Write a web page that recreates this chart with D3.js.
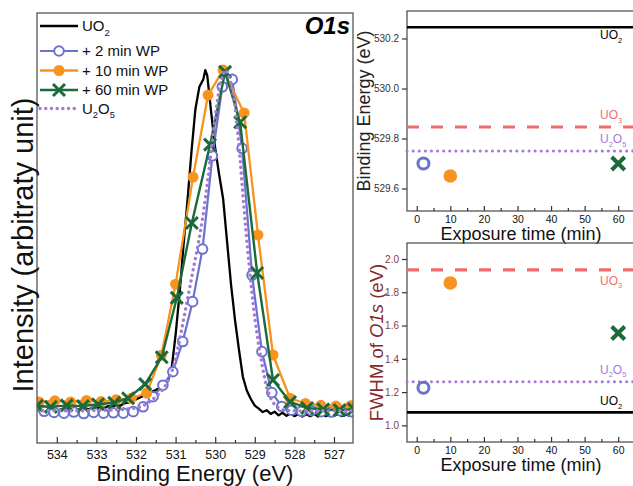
<!DOCTYPE html>
<html>
<head>
<meta charset="utf-8">
<script src="https://cdn.jsdelivr.net/npm/d3@7"></script>
<style>
  body { margin: 0; background: #fff; }
</style>
</head>
<body>
<div id="chart"></div>
<script>
// ---------------- data ----------------
var energyTicks = [534, 533, 532, 531, 530, 529, 528, 527];
var energyMinor = [533.5, 532.5, 531.5, 530.5, 529.5, 528.5, 527.5];
var timeTicks = [0, 10, 20, 30, 40, 50, 60];
var timeMinor = [5, 15, 25, 35, 45, 55];
var bindingTicks = [529.6, 529.8, 530.0, 530.2];
var fwhmTicks = [1.0, 1.2, 1.4, 1.6, 1.8, 2.0];

// O1s spectra: [binding energy (eV), normalised intensity]
var spectrumUO2 = [
  [534.5,.090],[534.4,.085],[534.3,.092],[534.2,.087],[534.1,.091],[534.0,.086],[533.9,.090],[533.8,.088],
  [533.7,.093],[533.6,.087],[533.5,.091],[533.4,.089],[533.3,.094],[533.2,.090],[533.1,.095],[533.0,.092],
  [532.9,.097],[532.8,.094],[532.7,.099],[532.6,.097],[532.5,.102],[532.4,.100],[532.3,.106],[532.2,.108],
  [532.1,.113],[532.0,.117],[531.9,.122],[531.8,.127],[531.7,.131],[531.6,.137],[531.5,.142],[531.4,.148],
  [531.3,.155],[531.2,.165],[531.1,.200],[531.0,.290],[530.9,.400],[530.8,.530],[530.7,.650],[530.6,.780],
  [530.5,.895],[530.4,.955],[530.3,.975],[530.25,1.0],[530.2,.985],[530.1,.885],[530.0,.790],[529.9,.720],
  [529.8,.655],[529.7,.540],[529.6,.425],[529.5,.330],[529.4,.250],[529.3,.177],[529.2,.140],[529.1,.118],
  [529.0,.100],[528.9,.092],[528.8,.083],[528.7,.088],[528.6,.078],[528.5,.084],[528.4,.074],[528.3,.081],
  [528.2,.073],[528.1,.079],[528.0,.072],[527.9,.078],[527.8,.071],[527.7,.077],[527.6,.072],[527.5,.078],
  [527.4,.071],[527.3,.076],[527.2,.072],[527.1,.077],[527.0,.073],[526.9,.078],[526.8,.072],[526.7,.076],
  [526.6,.073],[526.5,.077]
];
var spectrum2min = [
  [534.32,.085],[534.07,.082],[533.82,.080],[533.57,.083],[533.32,.079],[533.07,.082],[532.82,.080],
  [532.57,.081],[532.32,.080],[532.07,.084],[531.82,.097],[531.57,.124],[531.32,.155],[531.07,.191],
  [530.82,.272],[530.57,.379],[530.32,.520],[530.07,.770],[529.82,.955],[529.57,.975],[529.32,.790],
  [529.07,.450],[528.82,.245],[528.57,.135],[528.32,.098],[528.07,.088],[527.82,.085],[527.57,.087],
  [527.32,.084],[527.07,.083],[526.82,.086],[526.57,.084]
];
var spectrum10min = [
  [534.45,.110],[534.05,.113],[533.65,.110],[533.25,.114],[532.88,.111],[532.50,.116],[532.12,.120],
  [531.73,.134],[531.36,.235],[531.00,.426],[530.56,.713],[530.18,.933],[529.80,1.0],[529.27,.885],
  [528.92,.558],[528.54,.236],[528.11,.120],[527.72,.106],[527.33,.101],[526.95,.099],[526.58,.100]
];
var spectrum60min = [
  [534.50,.100],[534.15,.097],[533.75,.101],[533.34,.099],[532.96,.104],[532.55,.108],[532.20,.120],
  [531.77,.158],[531.35,.230],[530.97,.389],[530.59,.590],[530.13,.800],[529.75,.995],[529.37,.860],
  [528.94,.456],[528.54,.169],[528.11,.110],[527.68,.094],[527.27,.090],[526.86,.088],[526.50,.091]
];
var spectrumU2O5 = [
  [534.5,.088],[534.3,.087],[534.1,.088],[533.9,.087],[533.7,.086],[533.5,.087],[533.3,.086],[533.1,.087],
  [532.9,.087],[532.7,.088],[532.5,.089],[532.3,.090],[532.1,.092],[532.0,.094],[531.9,.097],[531.8,.101],
  [531.7,.107],[531.6,.115],[531.5,.124],[531.4,.134],[531.3,.146],[531.2,.165],[531.1,.190],[531.0,.225],
  [530.9,.275],[530.8,.330],[530.7,.385],[530.6,.440],[530.5,.495],[530.4,.550],[530.3,.615],[530.2,.695],
  [530.1,.785],[530.0,.875],[529.9,.950],[529.8,.990],[529.75,1.0],[529.7,.995],[529.6,.965],[529.5,.905],
  [529.4,.800],[529.3,.665],[529.2,.540],[529.1,.430],[529.0,.335],[528.9,.260],[528.8,.200],[528.7,.148],
  [528.6,.120],[528.5,.103],[528.4,.094],[528.3,.089],[528.1,.087],[527.9,.086],[527.7,.087],[527.5,.086],
  [527.3,.087],[527.1,.086],[526.9,.087],[526.7,.086],[526.5,.087]
];

// fitted peak parameters vs exposure time
var sampleTimes = [2, 10, 60];
var sampleBE = [529.70, 529.65, 529.70];
var sampleFWHM = [1.226, 1.856, 1.555];
var refBE = [530.245, 529.846, 529.75];      // UO2, UO3, U2O5
var refFWHM = [1.078, 1.935, 1.262];

var legendNames = [[["UO", 0], ["2", 1]], [["+ 2 min WP", 0]], [["+ 10 min WP", 0]], [["+ 60 min WP", 0]],
  [["U", 0], ["2", 1], ["O", 0], ["5", 1]]];
var refNames = [[["UO", 0], ["2", 1]], [["UO", 0], ["3", 1]], [["U", 0], ["2", 1], ["O", 0], ["5", 1]]];

// ---------------- styles ----------------
var FONT = "'Liberation Sans', Arial, Helvetica, sans-serif";
var C_BLUE = "#6a72cc", C_ORANGE = "#f7931e", C_GREEN = "#1b6a3a", C_PURPLE = "#a47ad6",
    C_SALMON = "#f06c6c", C_DARKRED = "#862a2a", C_FRAME = "#555";

var svg = d3.select("#chart").append("svg")
  .attr("width", 633).attr("height", 486)
  .style("font-family", FONT);

function formula(text, parts, size) {
  var sub = false;
  parts.forEach(function (p) {
    var t = text.append("tspan").text(p[0]);
    if (p[1]) {
      t.attr("font-size", size * 0.62);
      if (!sub) t.attr("dy", size * 0.3);
    } else if (sub) {
      t.attr("dy", -size * 0.3);
    }
    sub = !!p[1];
  });
}

function marker(g, type, x, y, s, color, sw) {
  if (type == "open") {
    g.append("circle").attr("cx", x).attr("cy", y).attr("r", s)
      .attr("fill", "#fff").attr("stroke", color).attr("stroke-width", sw);
  } else if (type == "dot") {
    g.append("circle").attr("cx", x).attr("cy", y).attr("r", s).attr("fill", color);
  } else if (type == "x") {
    g.append("path")
      .attr("d", "M" + (x - s) + "," + (y - s) + "L" + (x + s) + "," + (y + s) +
                 "M" + (x - s) + "," + (y + s) + "L" + (x + s) + "," + (y - s))
      .attr("stroke", color).attr("stroke-width", sw).attr("fill", "none");
  }
}

function styleAxis(g, size, color) {
  g.attr("font-size", null).attr("font-family", null);
  g.select(".domain").remove();
  g.selectAll("line").attr("stroke", "#333").attr("stroke-width", 1.2);
  g.selectAll("text").attr("font-size", size).attr("fill", color);
}

// minor ticks only, no labels
function minorTicks(g, scale, values, y) {
  var ax = g.append("g").attr("transform", "translate(0," + y + ")")
    .call(d3.axisBottom(scale).tickValues(values).tickSize(-3));
  ax.selectAll("text").remove();
  styleAxis(ax, 10, "#111");
}

// ================= left panel: spectra =================
var L = { left: 37, right: 353, top: 13, bottom: 443 };
var xE = d3.scaleLinear().domain([534.5, 526.52]).range([L.left, L.right]);
var yI = d3.scaleLinear().domain([0, 1.153]).range([L.bottom, L.top]);

svg.append("clipPath").attr("id", "clipL").append("rect")
  .attr("x", L.left).attr("y", L.top).attr("width", L.right - L.left).attr("height", L.bottom - L.top);

var series = [
  { data: spectrumUO2, color: "#000", width: 2.3, marker: null },
  { data: spectrum2min, color: C_BLUE, width: 2.2, marker: "open", size: 4.8, sw: 2 },
  { data: spectrum10min, color: C_ORANGE, width: 2.3, marker: "dot", size: 5.5 },
  { data: spectrum60min, color: C_GREEN, width: 2.4, marker: "x", size: 6, sw: 3 },
  { data: spectrumU2O5, color: C_PURPLE, width: 3.4, dash: "0.1 5.6", marker: null }
];

var line = d3.line().x(function (d) { return xE(d[0]); }).y(function (d) { return yI(d[1]); });
var gL = svg.append("g").attr("clip-path", "url(#clipL)");

series.forEach(function (s) {
  var p = gL.append("path").datum(s.data).attr("d", line)
    .attr("fill", "none").attr("stroke", s.color).attr("stroke-width", s.width)
    .attr("stroke-linejoin", "round");
  if (s.dash) p.attr("stroke-dasharray", s.dash).attr("stroke-linecap", "round");
  if (s.marker) {
    s.data.forEach(function (d) {
      marker(gL, s.marker, xE(d[0]), yI(d[1]), s.size, s.color, s.sw);
    });
  }
});

svg.append("rect").attr("x", L.left).attr("y", L.top)
  .attr("width", L.right - L.left).attr("height", L.bottom - L.top)
  .attr("fill", "none").attr("stroke", C_FRAME).attr("stroke-width", 1.3);

var axE = svg.append("g").attr("transform", "translate(0," + L.bottom + ")")
  .call(d3.axisBottom(xE).tickValues(energyTicks).tickFormat(d3.format("d")).tickSize(-6).tickPadding(7));
styleAxis(axE, 12.5, "#111");
minorTicks(svg, xE, energyMinor, L.bottom);

svg.append("text").attr("x", 195).attr("y", 481).attr("text-anchor", "middle")
  .attr("font-size", 22).attr("fill", "#111").text("Binding Energy (eV)");
svg.append("text").attr("transform", "translate(33,245) rotate(-90)").attr("text-anchor", "middle")
  .attr("font-size", 29).attr("fill", "#111").text("Intensity (arbitraty unit)");
svg.append("text").attr("x", 350).attr("y", 34).attr("text-anchor", "end")
  .attr("font-size", 24).attr("font-weight", "bold").attr("font-style", "italic").text("O1s");

// legend
var legendRows = [26, 51, 70.5, 90, 108.5];
series.forEach(function (s, i) {
  var y = legendRows[i];
  var l = svg.append("line").attr("x1", 40).attr("x2", 78).attr("y1", y).attr("y2", y)
    .attr("stroke", s.color).attr("stroke-width", s.width);
  if (s.dash) l.attr("stroke-dasharray", s.dash).attr("stroke-linecap", "round");
  if (s.marker) marker(svg, s.marker, 59, y, s.size, s.color, s.sw);
  var t = svg.append("text").attr("x", 82).attr("y", y + 5.3).attr("font-size", 15).attr("fill", "#111");
  formula(t, legendNames[i], 15);
});

// ================= right panels =================
var xT = d3.scaleLinear().domain([-2.9, 65.3]).range([407, 636]);
var pointStyles = [
  { color: C_BLUE, marker: "open", size: 5.5, sw: 3 },
  { color: C_ORANGE, marker: "dot", size: 6.8 },
  { color: C_GREEN, marker: "x", size: 6.5, sw: 4 }
];
var refStyles = [
  { color: "#000", width: 2.6, dash: null },
  { color: C_SALMON, width: 3.2, dash: "12 12" },
  { color: C_PURPLE, width: 3, dash: "0.1 6", cap: "round" }
];

function rightPanel(P, yScale, yTicks, refs, values, labelOffsets, tickColor) {
  var g = svg.append("g");
  g.append("rect").attr("x", P.left).attr("y", P.top)
    .attr("width", P.right - P.left).attr("height", P.bottom - P.top)
    .attr("fill", "none").attr("stroke", C_FRAME).attr("stroke-width", 1.3);

  refs.forEach(function (v, i) {
    var st = refStyles[i];
    var y = yScale(v);
    var l = g.append("line").attr("x1", P.left).attr("x2", P.right).attr("y1", y).attr("y2", y)
      .attr("stroke", st.color).attr("stroke-width", st.width);
    if (st.dash) l.attr("stroke-dasharray", st.dash);
    if (st.cap) l.attr("stroke-linecap", st.cap);
    var t = g.append("text").attr("x", 600).attr("y", y + labelOffsets[i])
      .attr("font-size", 12).attr("fill", st.color == C_SALMON ? "#ee7070" : st.color);
    formula(t, refNames[i], 12);
  });

  values.forEach(function (v, i) {
    var st = pointStyles[i];
    marker(g, st.marker, xT(sampleTimes[i]), yScale(v), st.size, st.color, st.sw);
  });

  var ax = g.append("g").attr("transform", "translate(0," + P.bottom + ")")
    .call(d3.axisBottom(xT).tickValues(timeTicks).tickSize(-5).tickPadding(5));
  styleAxis(ax, 10.5, "#111");
  minorTicks(g, xT, timeMinor, P.bottom);

  var ay = g.append("g").attr("transform", "translate(" + P.left + ",0)")
    .call(d3.axisLeft(yScale).tickValues(yTicks).tickFormat(d3.format(".1f")).tickSize(5).tickPadding(3));
  styleAxis(ay, 10, tickColor);

  g.append("text").attr("x", 521).attr("y", P.bottom + 29)
    .attr("text-anchor", "middle").attr("font-size", 18).attr("fill", "#111").text("Exposure time (min)");
  return g;
}

var TR = { left: 407, right: 636, top: 11, bottom: 211 };
var yB = d3.scaleLinear().domain([529.51, 530.31]).range([TR.bottom, TR.top]);
rightPanel(TR, yB, bindingTicks, refBE, sampleBE, [12, -8, -8], "#333");
svg.append("text").attr("transform", "translate(370," + ((TR.top + TR.bottom) / 2) + ") rotate(-90)")
  .attr("text-anchor", "middle").attr("font-size", 18).attr("fill", "#222").text("Binding Energy (eV)");

var BR = { left: 407, right: 636, top: 243, bottom: 442 };
var yF = d3.scaleLinear().domain([0.90, 2.096]).range([BR.bottom, BR.top]);
rightPanel(BR, yF, fwhmTicks, refFWHM, sampleFWHM, [-7, 15, -8], "#8b3a3a");
var ft = svg.append("text").attr("transform", "translate(383," + ((BR.top + BR.bottom) / 2) + ") rotate(-90)")
  .attr("text-anchor", "middle").attr("font-size", 18.5).attr("fill", C_DARKRED);
ft.append("tspan").text("FWHM of ");
ft.append("tspan").attr("font-style", "italic").text("O1s");
ft.append("tspan").text(" (eV)");
</script>
</body>
</html>
